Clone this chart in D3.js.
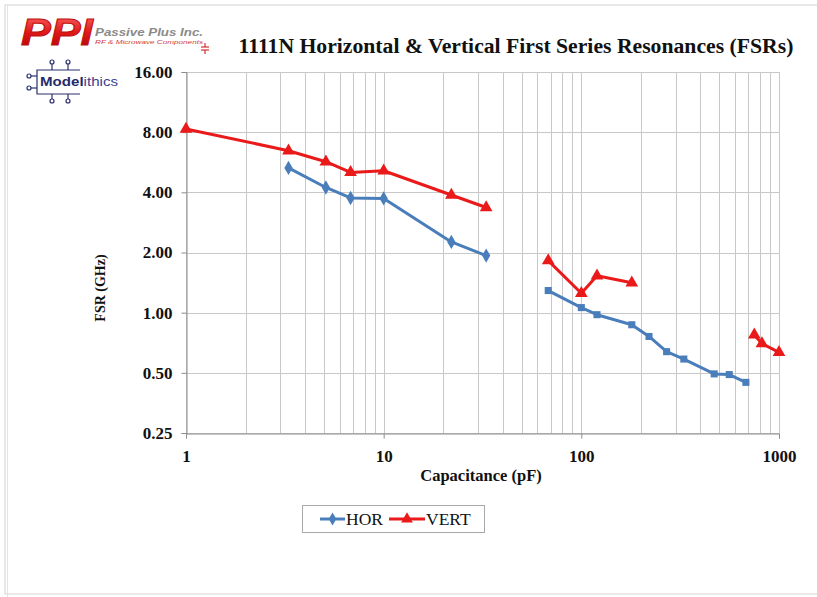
<!doctype html>
<html>
<head>
    <meta charset="UTF-8">
    <title>1111N FSR</title>
    <script src="https://d3js.org/d3.v7.min.js"></script>
    <style>
        body { margin: 0; background: #fff; }
        svg { display: block; }
    </style>
</head>
<body>
    <svg width="817" height="597" font-family="Liberation Serif, Times New Roman, serif"></svg>
    <script>
        // capacitance (pF) / FSR (GHz), one array pair per line segment
        var horCapA = [3.3, 5.1, 6.8, 10, 22, 33];
        var horFsrA = [5.3, 4.23, 3.75, 3.73, 2.26, 1.93];
        var horCapB = [68, 100, 120, 180, 220, 270, 330, 470, 560, 680];
        var horFsrB = [1.29, 1.06, 0.977, 0.87, 0.76, 0.638, 0.586, 0.494, 0.49, 0.448];
        var vertCapA = [1, 3.3, 5.1, 6.8, 10, 22, 33];
        var vertFsrA = [8.3, 6.46, 5.69, 5.03, 5.13, 3.88, 3.36];
        var vertCapB = [68, 100, 120, 180];
        var vertFsrB = [1.82, 1.25, 1.53, 1.41];
        var vertCapC = [750, 820, 1000];
        var vertFsrC = [0.774, 0.70, 0.633];

        var xTicks = [1, 10, 100, 1000];
        var yTicks = [0.25, 0.5, 1, 2, 4, 8, 16];
        var seriesNames = ["HOR", "VERT"];

        var blue = "#4a7ebb";
        var red = "#ea1a1a";

        var svg = d3.select("svg");
        var pLeft = 186, pRight = 779, pTop = 72, pBottom = 433;

        var x = d3.scaleLog().domain([1, 1000]).range([pLeft, pRight]);
        var y = d3.scaleLog().base(2).domain([0.25, 16]).range([pBottom, pTop]);

        // outer frame
        svg.append("rect").attr("x", 5).attr("y", 5).attr("width", 830).attr("height", 589)
            .attr("fill", "none").attr("stroke", "#d4d4d4");
        svg.append("line").attr("x1", 7.5).attr("x2", 7.5).attr("y1", 5).attr("y2", 597)
            .attr("stroke", "#e4e4e4");

        // grid
        svg.append("g").selectAll("line").data(x.ticks()).enter().append("line")
            .attr("x1", function (d) { return Math.round(x(d)) + 0.5; })
            .attr("x2", function (d) { return Math.round(x(d)) + 0.5; })
            .attr("y1", pTop).attr("y2", pBottom)
            .attr("stroke", "#c8c8c8");
        svg.append("g").selectAll("line").data(yTicks).enter().append("line")
            .attr("x1", pLeft).attr("x2", pRight)
            .attr("y1", function (d) { return Math.round(y(d)) + 0.5; })
            .attr("y2", function (d) { return Math.round(y(d)) + 0.5; })
            .attr("stroke", "#c8c8c8");

        // axes
        var yAxis = svg.append("g").attr("transform", "translate(" + (pLeft + 0.5) + ",0)")
            .call(d3.axisLeft(y).tickValues(yTicks).tickFormat(d3.format(".2f")).tickSize(5).tickPadding(9));
        var xAxis = svg.append("g").attr("transform", "translate(0," + (pBottom + 0.5) + ")")
            .call(d3.axisBottom(x).tickValues(xTicks).tickFormat(d3.format("d")).tickSize(5).tickPadding(11));
        [xAxis, yAxis].forEach(function (a) {
            a.select(".domain").attr("stroke", "#8c8c8c");
            a.selectAll(".tick line").attr("stroke", "#8c8c8c");
            a.selectAll("text").attr("font-family", "Liberation Serif").attr("font-weight", "bold")
                .attr("font-size", 17).attr("fill", "#111");
        });

        // titles
        svg.append("text").attr("x", 516).attr("y", 53).attr("text-anchor", "middle")
            .attr("font-size", 21.7).attr("font-weight", "bold").attr("fill", "#111")
            .text("1111N Horizontal & Vertical First Series Resonances (FSRs)");
        svg.append("text").attr("x", 481).attr("y", 481).attr("text-anchor", "middle")
            .attr("font-size", 16.5).attr("font-weight", "bold").attr("fill", "#111")
            .text("Capacitance (pF)");
        svg.append("text").attr("transform", "translate(105,288) rotate(-90)").attr("text-anchor", "middle")
            .attr("font-size", 14).attr("font-weight", "bold").attr("fill", "#111")
            .text("FSR (GHz)");

        // series
        var segments = [
            { cap: horCapA, fsr: horFsrA, color: blue, shape: d3.symbolDiamond, size: 60 },
            { cap: horCapB, fsr: horFsrB, color: blue, shape: d3.symbolSquare, size: 50 },
            { cap: vertCapA, fsr: vertFsrA, color: red, shape: d3.symbolTriangle, size: 70 },
            { cap: vertCapB, fsr: vertFsrB, color: red, shape: d3.symbolTriangle, size: 70 },
            { cap: vertCapC, fsr: vertFsrC, color: red, shape: d3.symbolTriangle, size: 70 }
        ];
        var line = d3.line().x(function (d) { return x(d[0]); }).y(function (d) { return y(d[1]); });

        segments.forEach(function (s) {
            var pts = d3.zip(s.cap, s.fsr);
            svg.append("path").datum(pts).attr("d", line).attr("fill", "none")
                .attr("stroke", s.color).attr("stroke-width", 3).attr("stroke-linejoin", "round");
            svg.append("g").selectAll("path").data(pts).enter().append("path")
                .attr("transform", function (d) { return "translate(" + x(d[0]) + "," + y(d[1]) + ")"; })
                .attr("d", d3.symbol().type(s.shape).size(s.size))
                .attr("fill", s.color);
        });

        // legend
        var lg = svg.append("g");
        lg.append("rect").attr("x", 302.5).attr("y", 505.5).attr("width", 182).attr("height", 27)
            .attr("fill", "#fff").attr("stroke", "#a8a8a8");
        var legendItems = [
            { name: seriesNames[0], color: blue, shape: d3.symbolDiamond, size: 50, x1: 320, x2: 345, tx: 346 },
            { name: seriesNames[1], color: red, shape: d3.symbolTriangle, size: 60, x1: 389, x2: 425, tx: 426 }
        ];
        legendItems.forEach(function (it) {
            lg.append("line").attr("x1", it.x1).attr("x2", it.x2).attr("y1", 519).attr("y2", 519)
                .attr("stroke", it.color).attr("stroke-width", 3);
            lg.append("path").attr("transform", "translate(" + (it.x1 + it.x2) / 2 + ",519)")
                .attr("d", d3.symbol().type(it.shape).size(it.size)).attr("fill", it.color);
            lg.append("text").attr("x", it.tx).attr("y", 525).attr("font-size", 17.5).attr("fill", "#111")
                .text(it.name);
        });

        // PPI logo
        var defs = svg.append("defs");
        var grad = defs.append("linearGradient").attr("id", "ppiRed").attr("x1", 0).attr("x2", 0).attr("y1", 0).attr("y2", 1);
        grad.append("stop").attr("offset", "0").attr("stop-color", "#ff6a6a");
        grad.append("stop").attr("offset", "0.5").attr("stop-color", "#e01818");
        grad.append("stop").attr("offset", "1").attr("stop-color", "#a80000");
        svg.append("text").attr("x", 21).attr("y", 45)
            .attr("font-family", "Liberation Sans").attr("font-style", "italic").attr("font-weight", "bold")
            .attr("font-size", 37).attr("textLength", 72).attr("lengthAdjust", "spacingAndGlyphs")
            .attr("fill", "url(#ppiRed)").attr("stroke", "#c01010").attr("stroke-width", 1).text("PPI");
        svg.append("text").attr("x", 95).attr("y", 36)
            .attr("font-family", "Liberation Sans").attr("font-style", "italic").attr("font-weight", "bold")
            .attr("font-size", 11).attr("textLength", 108).attr("lengthAdjust", "spacingAndGlyphs")
            .attr("fill", "#8a8a8a").text("Passive Plus Inc.");
        svg.append("text").attr("x", 95).attr("y", 44)
            .attr("font-family", "Liberation Sans").attr("font-style", "italic")
            .attr("font-size", 6).attr("textLength", 108).attr("lengthAdjust", "spacingAndGlyphs")
            .attr("fill", "#d04040").text("RF & Microwave Components");
        var cap = svg.append("g").attr("stroke", "#d03030").attr("stroke-width", 1.2);
        cap.append("line").attr("x1", 205).attr("x2", 205).attr("y1", 43).attr("y2", 47);
        cap.append("line").attr("x1", 201).attr("x2", 209).attr("y1", 47).attr("y2", 47);
        cap.append("line").attr("x1", 201).attr("x2", 209).attr("y1", 50).attr("y2", 50);
        cap.append("line").attr("x1", 205).attr("x2", 205).attr("y1", 50).attr("y2", 54);

        // Modelithics logo
        var ml = svg.append("g").attr("stroke", "#2a2f6e").attr("stroke-width", 1.2).attr("fill", "none");
        ml.append("path").attr("d", "M80,70 H37 V94 H80");
        [52, 68].forEach(function (px) {
            ml.append("line").attr("x1", px).attr("x2", px).attr("y1", 64).attr("y2", 70);
            ml.append("circle").attr("cx", px).attr("cy", 62).attr("r", 2);
            ml.append("line").attr("x1", px).attr("x2", px).attr("y1", 94).attr("y2", 99);
            ml.append("circle").attr("cx", px).attr("cy", 101).attr("r", 2);
        });
        [76, 88].forEach(function (py) {
            ml.append("line").attr("x1", 31).attr("x2", 37).attr("y1", py).attr("y2", py);
            ml.append("circle").attr("cx", 29).attr("cy", py).attr("r", 2);
        });
        var mt = svg.append("text").attr("x", 40).attr("y", 86)
            .attr("font-family", "Liberation Sans").attr("font-size", 13.5)
            .attr("textLength", 78).attr("lengthAdjust", "spacingAndGlyphs");
        mt.append("tspan").attr("font-weight", "bold").attr("fill", "#252a6a").text("Model");
        mt.append("tspan").attr("fill", "#3a4090").text("ithics");
    </script>
</body>
</html>
